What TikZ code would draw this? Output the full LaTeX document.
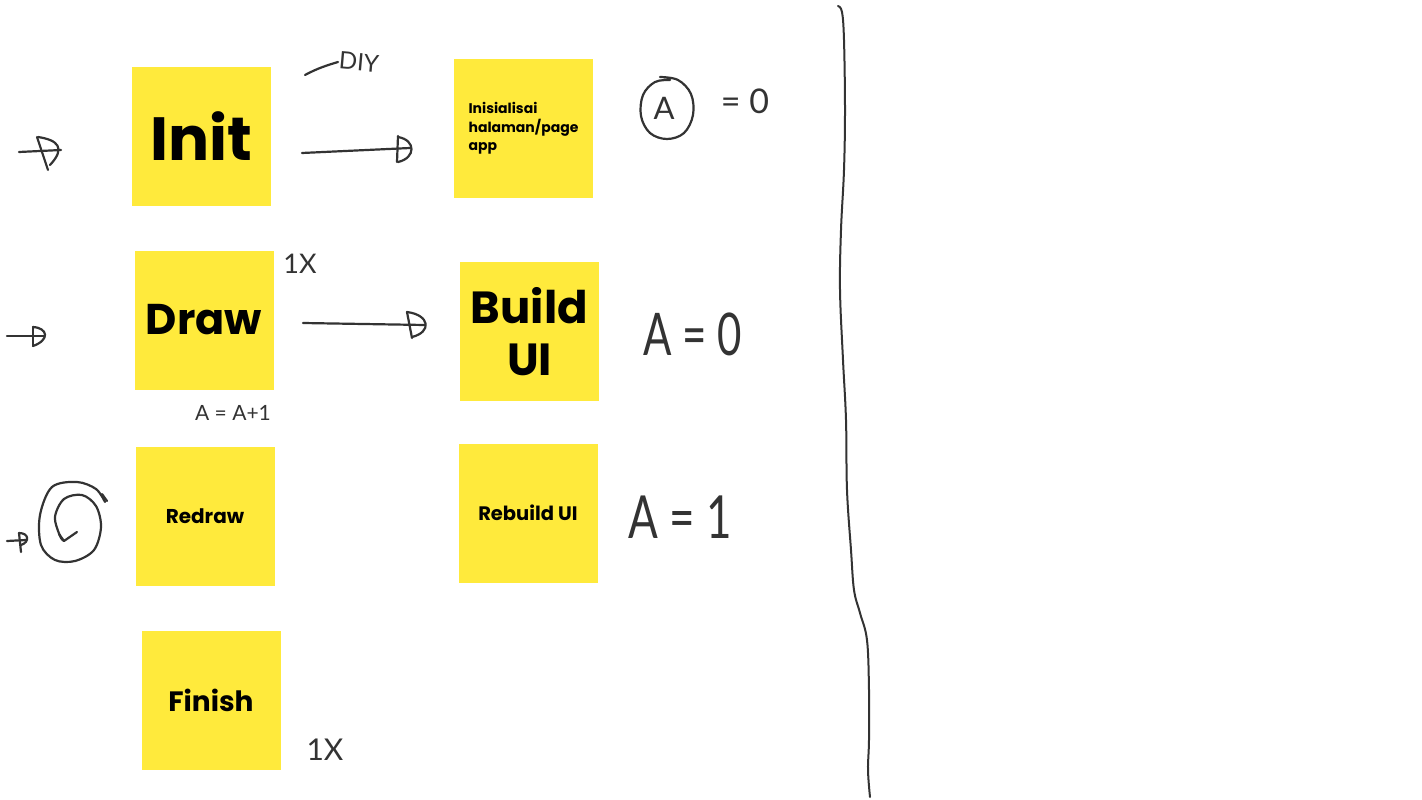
\documentclass[tikz,border=0pt]{standalone}
\usepackage{fontspec}
\newfontfamily\stickyfont{Poppins}
\newfontfamily\handfont{Lato}
\definecolor{sticky}{HTML}{FFEA3C}
\definecolor{ink}{HTML}{333333}
\begin{document}
\begin{tikzpicture}[x=1pt,y=-1pt,
  note/.style={fill=sticky, minimum width=139pt, minimum height=139pt, inner sep=0pt,
               text=black, align=center},
  nf/.style={font=\stickyfont\bfseries\fontsize{#1}{#1}\selectfont},
  hand/.style={draw=ink, line width=2.2pt, line cap=round, line join=round},
  handtext/.style={text=ink, inner sep=0pt}]
\useasboundingbox[fill=white] (0,0) rectangle (1422,800);

% sticky notes
\node[note, nf=61] (init) at (201.5,136.5) {Init};
\node[note, align=left, font=\stickyfont\bfseries\fontsize{14}{18.5}\selectfont] (inis) at (523.5,128.5) {Inisialisai\\halaman/page\\app};
\node[note, nf=43] (draw) at (204,320) {Draw};
\node[note, font=\stickyfont\bfseries\fontsize{45}{52}\selectfont] (build) at (529.5,331.5) {Build\\UI};
\node[note, nf=20] (redraw) at (205,516) {Redraw};
\node[note, nf=19.5] (rebuild) at (528,513) {Rebuild UI};
\node[note, nf=28] (finish) at (211,700) {Finish};

% divider line
\draw[hand, line width=2pt] plot[smooth, tension=0.6] coordinates {(838,6) (842,12) (844,40) (845,110) (844,170) (841,230) (840,290) (843,360) (846,420) (847,490) (851,550) (854,590) (860,613) (867,640) (869,690) (869,740) (868,770) (870,797)};

% arrow left of Init
\draw[hand] (19,152) -- (61,150);
\draw[hand] (37,137) -- (48,170);
\draw[hand] (38,137) .. controls (58,140) and (66,148) .. (50,165);
% arrow Init -> Inisialisai
\draw[hand] (302,153) -- (410,148);
\draw[hand] (398,136) -- (397,162);
\draw[hand] (398,137) .. controls (416,140) and (416,158) .. (398,162);
% DIY arrow
\draw[hand] (305,75) .. controls (318,68) and (328,65) .. (338,62);
\node[handtext, font=\handfont\fontsize{24}{24}\selectfont, rotate=-5] (diy) at (359,62) {DIY};

% arrow left of Draw
\draw[hand] (7,336) -- (44,336);
\draw[hand] (33,327) -- (33,346);
\draw[hand] (33,327) .. controls (48,328) and (50,340) .. (33,346);
% arrow Draw -> Build UI
\draw[hand] (303,323) -- (425,325);
\draw[hand] (407,312) -- (412,338);
\draw[hand] (407,312) .. controls (430,315) and (432,332) .. (412,337);

% spiral left of Redraw
\draw[hand] (7,541) -- (26,540);
\draw[hand] (19,533) -- (21,552);
\draw[hand] (19,533) .. controls (29,533) and (30,542) .. (21,545);
\draw[hand] plot[smooth, tension=0.55] coordinates {(105,502) (96,489) (77,482) (52,487) (40,515) (41,545) (55,560) (75,561) (94,550) (101,527) (96,506) (82,495) (64,499) (55,517) (60,536) (64,541)};
\draw[hand] (102,494) -- (107,501);
\draw[hand] (59,534) -- (64,541) -- (77,532);

% circled A = 0
\draw[hand] plot[smooth, tension=0.6] coordinates {(660,77) (678,80) (691,94) (693,115) (684,133) (667,139) (650,133) (641,116) (643,95) (655,82) (670,80)};
\node[handtext, font=\handfont\fontsize{31}{31}\selectfont] (a1) at (664,108) {A};
\node[handtext, font=\handfont\fontsize{34}{34}\selectfont] (eq1) at (745,101) {= 0};

% A = 0 big
\node[handtext, font=\handfont\fontsize{42}{42}\selectfont, yscale=1.4] (a2) at (693,334) {A = 0};
% A = 1 big
\node[handtext, font=\handfont\fontsize{44}{44}\selectfont, yscale=1.35] (a3) at (680,517) {A = 1};
% A = A+1
\node[handtext, font=\handfont\fontsize{21}{21}\selectfont] (inc) at (233,413) {A = A+1};
% 1X labels
\node[handtext, font=\handfont\fontsize{27}{27}\selectfont] (x1) at (300,264) {1X};
\node[handtext, font=\handfont\fontsize{30}{30}\selectfont] (x2) at (325,750) {1X};
\end{tikzpicture}
\end{document}
